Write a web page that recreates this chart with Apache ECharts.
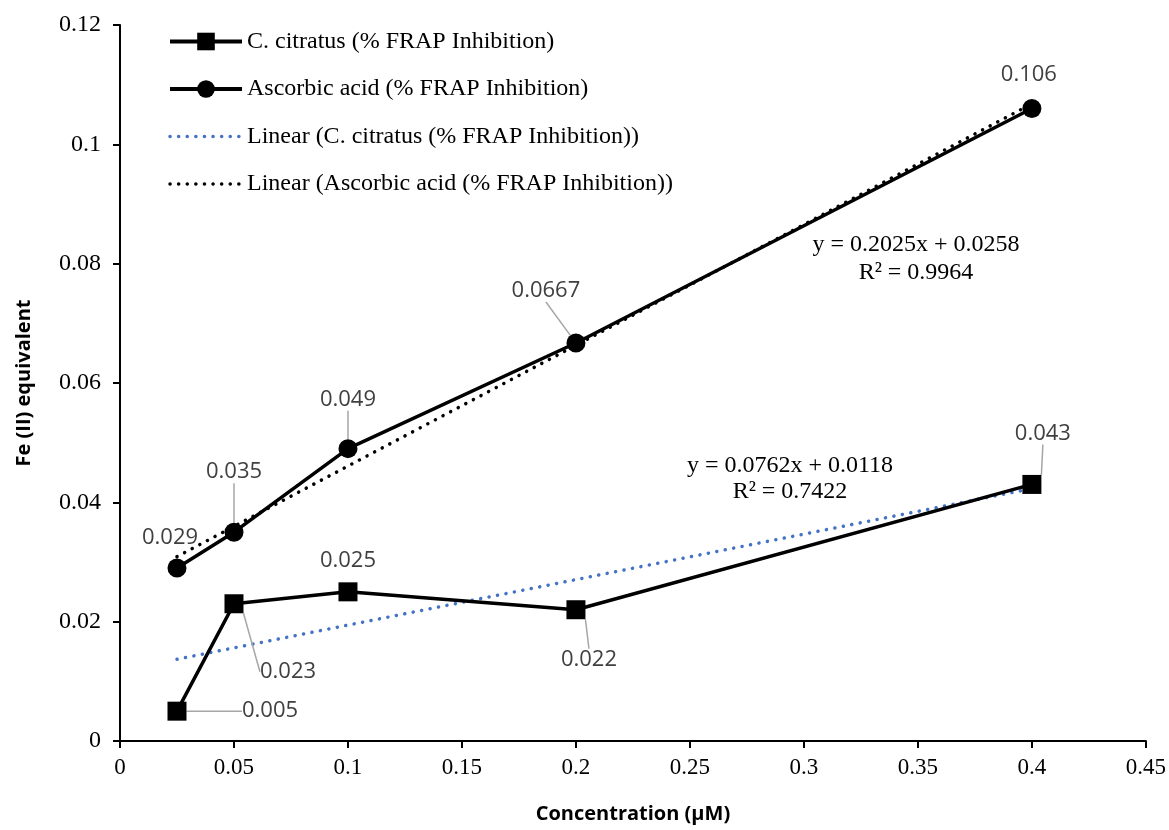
<!DOCTYPE html>
<html>
<head>
<meta charset="utf-8">
<script src="https://cdn.jsdelivr.net/npm/echarts@6/dist/echarts.min.js"></script>
<style>
  html, body { margin: 0; padding: 0; background: #fff; }
  #chart { width: 1169px; height: 830px; }
</style>
</head>
<body>
<div id="chart"></div>
<script>
const conc = [0.025, 0.05, 0.1, 0.2, 0.4]
const citratus = [0.005, 0.023, 0.025, 0.022, 0.043]
const ascorbic = [0.029, 0.035, 0.049, 0.0667, 0.106]
// trendline end points
const trendX = [0.025, 0.4]
const citratusTrend = [0.0137, 0.0423]
const ascorbicTrend = [0.0309, 0.1068]
const citratusEq = ['y = 0.0762x + 0.0118', 'R² = 0.7422']
const ascorbicEq = ['y = 0.2025x + 0.0258', 'R² = 0.9964']

const NAMES = [
  'C. citratus (% FRAP Inhibition)',
  'Ascorbic acid (% FRAP Inhibition)',
  'Linear (C. citratus (% FRAP Inhibition))',
  'Linear (Ascorbic acid (% FRAP Inhibition))',
]

const SERIF = '"Liberation Serif", "Times New Roman", serif'
const SANS = '"Open Sans", "DejaVu Sans", sans-serif'
const LBL = '#404040'
const DOTS = [0.1, 8.5]

// label offsets (px) from each point, and whether a leader line is drawn
const citOff = [[93, 0], [54, 68], [0, -31], [13, 50], [11, -51]]
const citLead = [true, true, false, true, true]
const ascOff = [[-7, -30], [0, -60], [0, -49], [-30, -52], [-3, -34]]
const ascLead = [false, true, true, true, false]

const pts = (xs, ys, lead) => xs.map((x, i) => ({
  value: [x, ys[i]],
  labelLine: { show: lead ? lead[i] : false },
}))

const labelOpt = {
  show: true, position: 'inside', color: LBL, fontFamily: SANS, fontSize: 22,
  formatter: (p) => String(p.value[1]),
}
const leader = { show: true, lineStyle: { color: '#a6a6a6', width: 1.5 } }
const tick = (v) => String(+v.toFixed(2))
const eqText = (text, x, y) => ({
  type: 'text', x, y,
  style: { text, fontFamily: SERIF, fontSize: 24, fill: '#000', align: 'center', verticalAlign: 'middle' },
})

const chart = echarts.init(document.getElementById('chart'), null, { renderer: 'canvas' })
chart.setOption({
  animation: false,
  grid: { left: 120, right: 21, top: 25, bottom: 89 },
  legend: {
    orient: 'vertical', left: 168, top: 29, itemGap: 22.5, padding: 0,
    itemWidth: 72, itemHeight: 22,
    textStyle: { fontFamily: SERIF, fontSize: 24, lineHeight: 25, color: '#000' },
    data: [
      { name: NAMES[0], lineStyle: { width: 4 } },
      { name: NAMES[1], lineStyle: { width: 4 } },
      { name: NAMES[2], itemStyle: { opacity: 0 }, lineStyle: { width: 3.5 } },
      { name: NAMES[3], itemStyle: { opacity: 0 }, lineStyle: { width: 3.5 } },
    ],
  },
  xAxis: {
    type: 'value', min: 0, max: 0.45, interval: 0.05,
    name: 'Concentration (µM)', nameLocation: 'middle', nameGap: 63,
    nameTextStyle: { fontFamily: SANS, fontWeight: 'bold', fontSize: 20, color: '#000' },
    axisLine: { lineStyle: { color: '#000', width: 2 } },
    axisTick: { show: true, inside: false, length: 7, lineStyle: { color: '#000', width: 2 } },
    axisLabel: { fontFamily: SERIF, fontSize: 23, color: '#000', margin: 15, formatter: tick },
    splitLine: { show: false },
  },
  yAxis: {
    type: 'value', min: 0, max: 0.12, interval: 0.02,
    name: 'Fe (II) equivalent', nameLocation: 'middle', nameGap: 86,
    nameTextStyle: { fontFamily: SANS, fontWeight: 'bold', fontSize: 20, color: '#000' },
    axisLine: { show: true, lineStyle: { color: '#000', width: 2 } },
    axisTick: { show: true, inside: false, length: 7, lineStyle: { color: '#000', width: 2 } },
    axisLabel: { fontFamily: SERIF, fontSize: 24, color: '#000', margin: 19, formatter: tick },
    splitLine: { show: false },
  },
  series: [
    {
      name: NAMES[2], type: 'line', symbol: 'none', z: 1,
      data: pts(trendX, citratusTrend),
      lineStyle: { color: '#4472C4', width: 3.5, type: DOTS, cap: 'round' },
      itemStyle: { color: '#4472C4' },
    },
    {
      name: NAMES[3], type: 'line', symbol: 'none', z: 1,
      data: pts(trendX, ascorbicTrend),
      lineStyle: { color: '#000', width: 3.5, type: DOTS, cap: 'round' },
      itemStyle: { color: '#000' },
    },
    {
      name: NAMES[0], type: 'line', symbol: 'rect', symbolSize: 19, z: 3,
      data: pts(conc, citratus, citLead),
      lineStyle: { color: '#000', width: 3.5 },
      itemStyle: { color: '#000', borderRadius: 2 },
      label: labelOpt, labelLine: leader,
      labelLayout: (p) => ({ dx: citOff[p.dataIndex][0], dy: citOff[p.dataIndex][1] }),
    },
    {
      name: NAMES[1], type: 'line', symbol: 'circle', symbolSize: 19, z: 3,
      data: pts(conc, ascorbic, ascLead),
      lineStyle: { color: '#000', width: 3.5 },
      itemStyle: { color: '#000' },
      label: labelOpt, labelLine: leader,
      labelLayout: (p) => ({ dx: ascOff[p.dataIndex][0], dy: ascOff[p.dataIndex][1] }),
    },
  ],
  graphic: [
    eqText(ascorbicEq[0], 916, 245),
    eqText(ascorbicEq[1], 916, 273),
    eqText(citratusEq[0], 790, 466),
    eqText(citratusEq[1], 790, 492),
  ],
})
</script>
</body>
</html>
